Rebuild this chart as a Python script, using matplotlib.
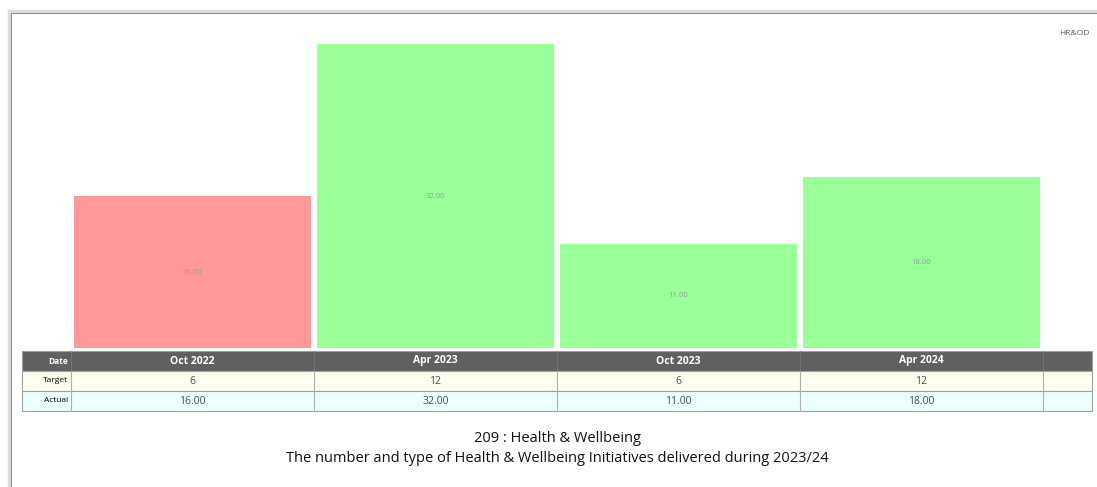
import matplotlib.pyplot as plt
from matplotlib.patches import Rectangle
from matplotlib.lines import Line2D

plt.rcParams['font.family'] = ['Open Sans', 'DejaVu Sans']

periods = ["Oct 2022", "Apr 2023", "Oct 2023", "Apr 2024"]
target = [6, 12, 6, 12]
actual = [16.00, 32.00, 11.00, 18.00]
title_1 = "209 : Health & Wellbeing"
title_2 = "The number and type of Health & Wellbeing Initiatives delivered during 2023/24"
owner = "HR&OD"

bar_colors = ["#ff9999", "#99ff99", "#99ff99", "#99ff99"]

W, H = 1097, 487
fig = plt.figure(figsize=(W / 100, H / 100), dpi=100)

# bar area (pixel layout of the original)
left, right, base, top = 71, 1043, 348, 15.5
ax = fig.add_axes([left / W, (H - base) / H, (right - left) / W, (base - top) / H])
x = list(range(len(periods)))
ax.bar(x, actual, width=0.975, color=bar_colors, edgecolor="none")
for i, v in enumerate(actual):
    ax.text(i, v / 2, f"{v:.2f}", ha="center", va="center", fontsize=5.5, color="#999999")
ax.set_xlim(-0.5, len(periods) - 0.5)
ax.set_ylim(0, 35)
ax.axis("off")

# data table below the bars
t_left, t_right, t_top, t_bot = 22, 1092, 351, 411
tax = fig.add_axes([(t_left - 5) / W, (H - t_bot - 5) / H,
                    (t_right - t_left + 10) / W, (t_bot - t_top + 10) / H])
tax.set_xlim(t_left - 5, t_right + 5)
tax.set_ylim(t_bot + 5, t_top - 5)
tax.axis("off")

row_h = 20
rows = [("Date", "#606060"), ("Target", "#fffff0"), ("Actual", "#ecffff")]
slot = (right - left) / len(periods)
for r, (name, bg) in enumerate(rows):
    y0 = t_top + r * row_h
    tax.add_patch(Rectangle((t_left, y0), t_right - t_left, row_h, facecolor=bg,
                            edgecolor="#a0a0a0", lw=0.8))
    hdr = r == 0
    tax.text(left - 3, y0 + row_h / 2, name, ha="right", va="center", fontsize=6,
             color="white" if hdr else "black", fontweight="bold" if hdr else "normal")
    for i in range(len(periods)):
        cx = left + slot * (i + 0.5)
        if hdr:
            label, col, fw = periods[i], "white", "bold"
        elif r == 1:
            label, col, fw = str(target[i]), "#4a4a5a", "normal"
        else:
            label, col, fw = f"{actual[i]:.2f}", "#4a4a5a", "normal"
        tax.text(cx, y0 + row_h / 2, label, ha="center", va="center", fontsize=7.5,
                 color=col, fontweight=fw)

for i in range(len(periods) + 1):
    xc = left + slot * i
    tax.plot([xc, xc], [t_top, t_top + row_h], color="#777777", lw=0.6)
    tax.plot([xc, xc], [t_top + row_h, t_bot], color="#b0b0b0", lw=0.8)

# titles and owner tag
fig.text(557 / W, 1 - 438 / H, title_1, ha="center", va="center", fontsize=10.5, color="#111111")
fig.text(557 / W, 1 - 459 / H, title_2, ha="center", va="center", fontsize=10.5, color="#111111")
fig.text(1089 / W, 1 - 33 / H, owner, ha="right", va="center", fontsize=6, color="#555555")

# panel frame
fig.add_artist(Line2D([8.5 / W, 8.5 / W], [0, 1 - 11 / H], transform=fig.transFigure,
                      color="#dddddd", lw=2.5))
fig.add_artist(Line2D([8.5 / W, 1], [1 - 11 / H, 1 - 11 / H], transform=fig.transFigure,
                      color="#dddddd", lw=2.5))
fig.add_artist(Line2D([10.5 / W, 10.5 / W], [0, 1 - 13 / H], transform=fig.transFigure,
                      color="#909090", lw=0.8))
fig.add_artist(Line2D([10.5 / W, 1], [1 - 13 / H, 1 - 13 / H], transform=fig.transFigure,
                      color="#909090", lw=0.8))

fig.savefig("out.png", dpi=100)
